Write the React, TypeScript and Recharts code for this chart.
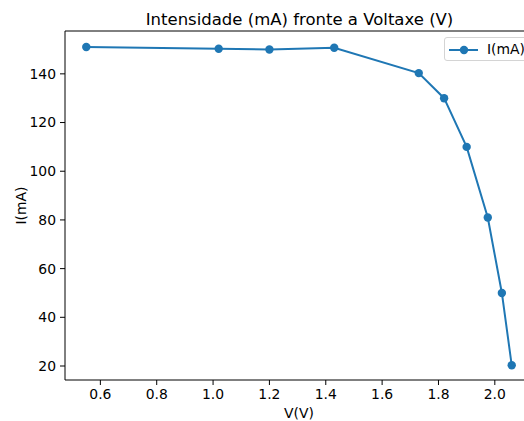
import { LineChart, Line, XAxis, YAxis, Legend, ReferenceLine } from 'recharts';

const voltage = [0.55, 1.02, 1.2, 1.43, 1.73, 1.82, 1.9, 1.975, 2.025, 2.06];
const current = [151, 150.3, 150, 150.7, 140.3, 130, 110, 81, 50, 20.3];
const xTicks = [0.6, 0.8, 1.0, 1.2, 1.4, 1.6, 1.8, 2.0];
const yTicks = [20, 40, 60, 80, 100, 120, 140];

const data = voltage.map((v, i) => ({ v, i: current[i] }));

const X_DOMAIN = [0.4745, 2.1355];
const Y_DOMAIN = [14.25, 157.6];
const FONT = 'DejaVu Sans, sans-serif';
const BLUE = '#1f77b4';

function LegendBox() {
  return (
    <div
      style={{
        display: 'flex',
        alignItems: 'center',
        height: 22,
        width: 88,
        border: '1px solid #d4d4d4',
        borderRadius: 3,
        background: 'rgba(255,255,255,0.8)',
        fontFamily: FONT,
        fontSize: 13.9,
        color: '#000',
        boxSizing: 'content-box',
      }}
    >
      <svg width={38} height={22} style={{ display: 'block' }}>
        <line x1={4} y1={12} x2={33} y2={12} stroke={BLUE} strokeWidth={2} />
        <circle cx={19} cy={12} r={4.2} fill={BLUE} />
      </svg>
      <span style={{ marginLeft: 4 }}>I(mA)</span>
    </div>
  );
}

export default function App() {
  return (
    <div
      style={{
        position: 'absolute',
        left: 0,
        top: 0,
        width: 524,
        height: 421,
        overflow: 'hidden',
        background: '#fff',
      }}
    >
      <svg
        width={524}
        height={31}
        style={{ position: 'absolute', left: 0, top: 0, display: 'block' }}
      >
        <text
          x={299.5}
          y={24.5}
          textAnchor="middle"
          fontFamily={FONT}
          fontSize={16.5}
          fill="#000"
        >
          Intensidade (mA) fronte a Voltaxe (V)
        </text>
      </svg>
      <LineChart
        width={545}
        height={421}
        data={data}
        margin={{ top: 31, right: 12, bottom: 0, left: 0 }}
      >
        <XAxis
          dataKey="v"
          type="number"
          domain={X_DOMAIN}
          allowDataOverflow
          ticks={xTicks}
          tickFormatter={(t: number) => t.toFixed(1)}
          height={41}
          tickSize={5}
          tickMargin={4}
          axisLine={{ stroke: '#000', strokeWidth: 1 }}
          tickLine={{ stroke: '#000', strokeWidth: 1 }}
          tick={{ fill: '#000', fontSize: 13.9, fontFamily: FONT }}
          label={{
            value: 'V(V)',
            position: 'insideBottom',
            offset: 3,
            fill: '#000',
            fontSize: 13.9,
            fontFamily: FONT,
          }}
        />
        <YAxis
          type="number"
          domain={Y_DOMAIN}
          allowDataOverflow
          ticks={yTicks}
          width={65}
          tickSize={5}
          tickMargin={4}
          axisLine={{ stroke: '#000', strokeWidth: 1 }}
          tickLine={{ stroke: '#000', strokeWidth: 1 }}
          tick={{ fill: '#000', fontSize: 13.9, fontFamily: FONT }}
          label={{
            value: 'I(mA)',
            angle: -90,
            position: 'insideLeft',
            offset: 21,
            fill: '#000',
            fontSize: 13.9,
            fontFamily: FONT,
            style: { textAnchor: 'middle' },
          }}
        />
        <ReferenceLine y={Y_DOMAIN[1]} stroke="#000" strokeWidth={1} ifOverflow="extendDomain" />
        <Legend
          layout="horizontal"
          verticalAlign="middle"
          align="center"
          wrapperStyle={{ top: 37, left: 444, width: 'auto' }}
          content={() => <LegendBox />}
        />
        <Line
          dataKey="i"
          name="I(mA)"
          stroke={BLUE}
          strokeWidth={2}
          dot={{ r: 4.2, fill: BLUE, stroke: BLUE, strokeWidth: 0 }}
          activeDot={false}
          isAnimationActive={false}
        />
      </LineChart>
    </div>
  );
}
